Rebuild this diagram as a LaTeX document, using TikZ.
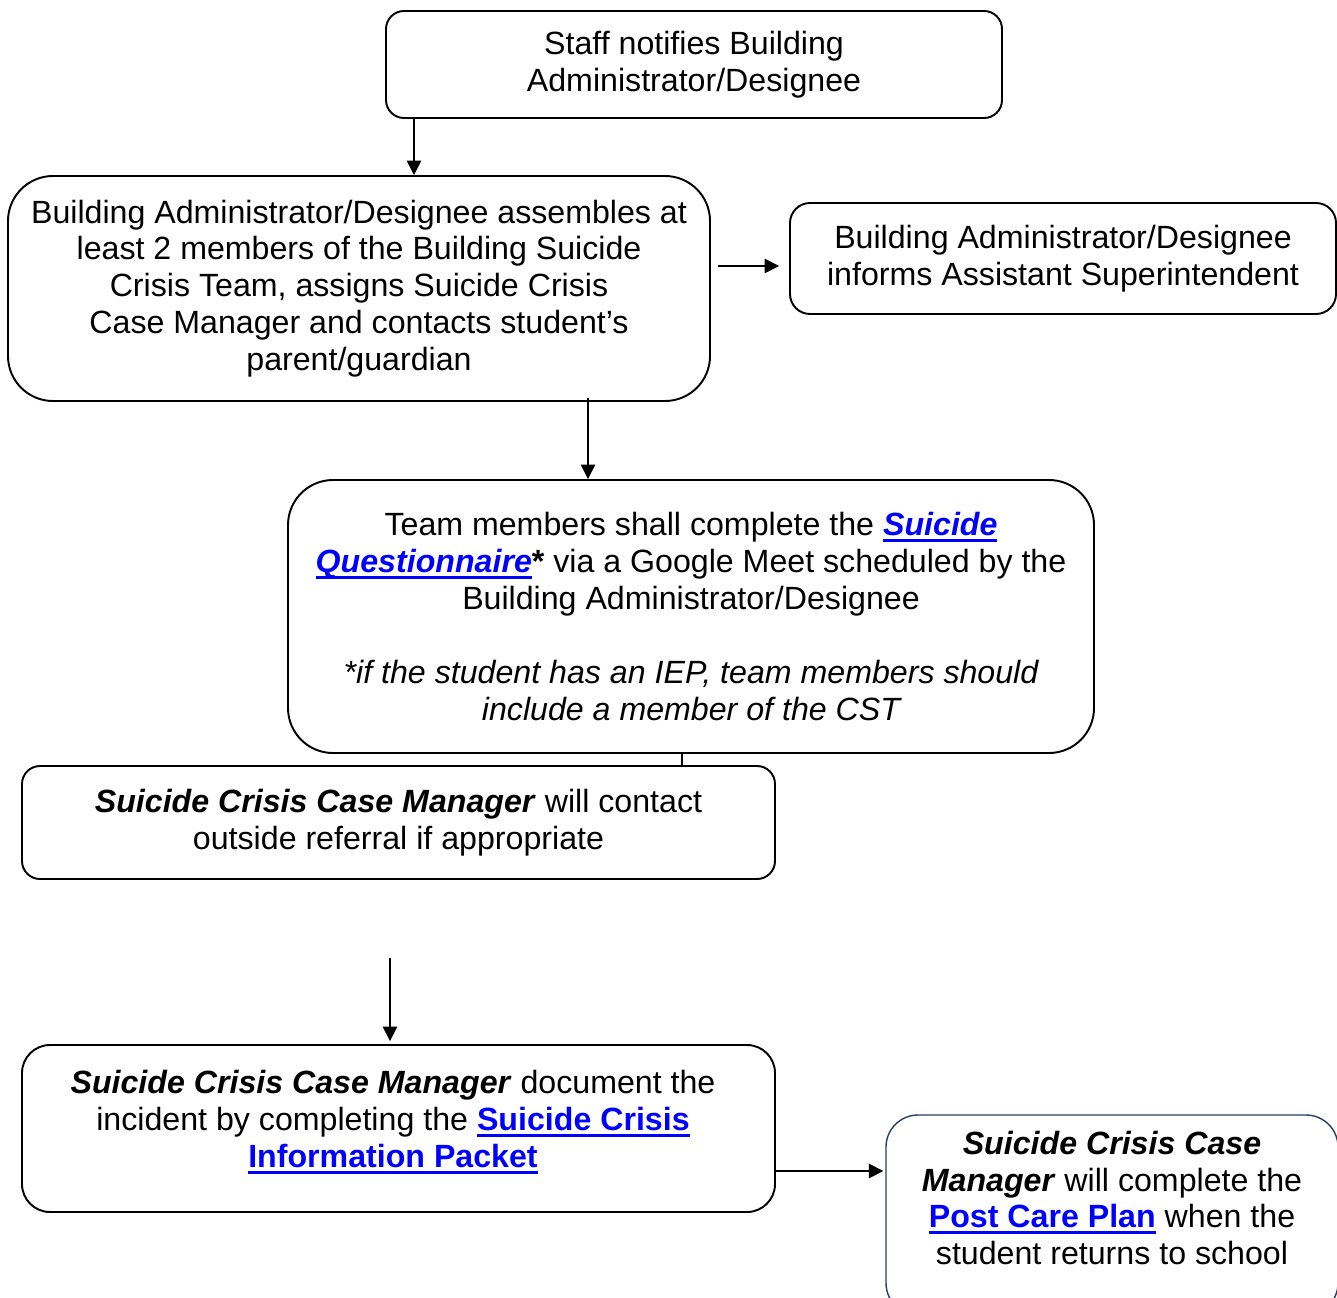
\documentclass[tikz,border=0pt]{standalone}
\usepackage{fontspec}
\setmainfont{Liberation Sans}
\usetikzlibrary{arrows.meta}
\newsavebox{\lnkbox}
\newcommand{\lnk}[1]{{\color{linkblue}\sbox{\lnkbox}{\bfseries #1}\rlap{\rule[-3.4pt]{\wd\lnkbox}{1.4pt}}\usebox{\lnkbox}}}
\begin{document}
\begin{tikzpicture}[x=0.02cm,y=-0.02cm]
	\tikzstyle{flowbox} = [draw,line width=1.1pt,align=center,inner sep=0pt,font=\fontsize{18.3}{21}\selectfont]
	\tikzstyle{flowtext} = [align=center,inner sep=0pt,font=\fontsize{18.3}{21}\selectfont]
	\tikzstyle{flowedge} = [-{Triangle[length=0.29cm,width=0.29cm]},line width=0.9pt]

	\def\pxu{0.02cm}
	\colorlet{linkblue}{blue}
	\definecolor{postframe}{RGB}{40,62,98}

	\useasboundingbox (0,0) rectangle (1337,1297);

	% NODES %
	\node[flowbox,rounded corners=18*\pxu,minimum width=616*\pxu,minimum height=107*\pxu] (notify) at (694,64.5)
		{Staff notifies Building\\Administrator/Designee};
	\node[flowbox,rounded corners=45*\pxu,minimum width=702*\pxu,minimum height=225*\pxu] (assemble) at (359,288.5)
		{Building Administrator/Designee assembles at\\least 2 members of the Building Suicide\\Crisis Team, assigns Suicide Crisis\\Case Manager and contacts student’s\\parent/guardian};
	\node[flowbox,rounded corners=20*\pxu,minimum width=546*\pxu,minimum height=111*\pxu] (inform) at (1063,258.5)
		{Building Administrator/Designee\\informs Assistant Superintendent};
	\node[flowbox,rounded corners=45*\pxu,minimum width=806*\pxu,minimum height=273*\pxu] (team) at (691,616.5)
		{Team members shall complete the \lnk{\itshape Suicide}\\\lnk{\itshape Questionnaire}\textbf{*} via a Google Meet scheduled by the\\Building Administrator/Designee\\[21pt]
		\itshape *if the student has an IEP, team members should\\\itshape include a member of the CST};
	\node[flowbox,rounded corners=18*\pxu,minimum width=753*\pxu,minimum height=113*\pxu] (contact) at (398.5,822.5)
		{\textbf{\textit{Suicide Crisis Case Manager}} will contact\\outside referral if appropriate};
	\node[flowbox,rounded corners=28*\pxu,minimum width=753*\pxu,minimum height=167*\pxu] (document) at (398.5,1128.5) {};
	\node[flowtext] (documenttext) at (393,1122)
		{\textbf{\textit{Suicide Crisis Case Manager}} document the\\incident by completing the \lnk{Suicide Crisis}\\\lnk{Information Packet}};
	\node[flowbox,draw=postframe,line width=0.8pt,rounded corners=32*\pxu,minimum width=452*\pxu,minimum height=200*\pxu] (postcare) at (1112,1215) {};
	\node[flowtext] (postcaretext) at (1112,1198)
		{\textbf{\textit{Suicide Crisis Case}}\\\textbf{\textit{Manager}} will complete the\\\lnk{Post Care Plan} when the\\student returns to school};

	\coordinate (x1) at (414,0);
	\coordinate (y2) at (0,266);
	\coordinate (x3) at (588,0);
	\coordinate (x4) at (682,0);
	\coordinate (free) at (390,958);
	\coordinate (y6) at (0,1171);

	% EDGES %
	\draw[flowedge] (notify.south -| x1) -- (assemble.north -| x1);
	\draw[flowedge,shorten <=7*\pxu,shorten >=10*\pxu] (assemble.east |- y2) -- (inform.west |- y2);
	\draw[flowedge] ([yshift=4*\pxu]assemble.south -| x3) -- (team.north -| x3);
	\draw[line width=0.9pt] (team.south -| x4) -- (contact.north -| x4);
	\draw[flowedge,shorten >=3*\pxu] (free) -- (document.north -| free);
	\draw[flowedge,shorten >=2*\pxu] (document.east |- y6) -- (postcare.west |- y6);
\end{tikzpicture}
\end{document}
